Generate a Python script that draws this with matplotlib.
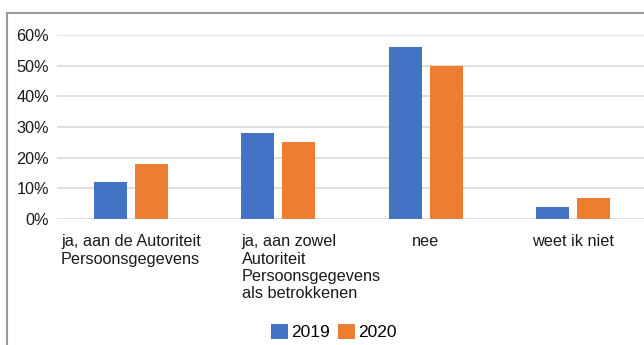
import matplotlib
matplotlib.use('Agg')
import matplotlib.pyplot as plt
from matplotlib.lines import Line2D
from matplotlib.ticker import PercentFormatter
from matplotlib.transforms import ScaledTranslation
import numpy as np

matplotlib.rcParams['font.family'] = ['Liberation Sans', 'DejaVu Sans']

categories = ['ja, aan de Autoriteit\nPersoonsgegevens',
              'ja, aan zowel\nAutoriteit\nPersoonsgegevens\nals betrokkenen',
              'nee',
              'weet ik niet']
values_2019 = [0.12, 0.28, 0.56, 0.04]
values_2020 = [0.18, 0.25, 0.50, 0.07]

blue = '#4472C4'
orange = '#ED7D31'

fig = plt.figure(figsize=(6.44, 3.45), dpi=100)
ax = fig.add_axes([57.3 / 644, 1 - 219 / 345, 589.5 / 644, 184 / 345])

x = np.arange(len(categories))
w = 0.224
ax.bar(x - 0.139, values_2019, w, color=blue, label='2019', zorder=3)
ax.bar(x + 0.139, values_2020, w, color=orange, label='2020', zorder=3)

ax.set_xlim(-0.5, 3.5)
ax.set_ylim(0, 0.6)
ax.set_yticks(np.arange(0, 0.61, 0.1))
ax.yaxis.set_major_formatter(PercentFormatter(1.0, decimals=0))
ax.grid(axis='y', color='#d9d9d9', linewidth=1.2, zorder=0)
for s in ax.spines.values():
    s.set_visible(False)
ax.tick_params(axis='both', length=0, labelsize=11.7, colors='#1a1a1a')
ax.tick_params(axis='y', pad=6)
ax.tick_params(axis='x', pad=11)
ax.set_xticks(x)
ax.set_xticklabels(categories, multialignment='left', linespacing=1.2)

# the wrapped second label sits a bit to the right of its tick
lab = ax.get_xticklabels()[1]
lab.set_transform(lab.get_transform() + ScaledTranslation(0.33, 0, fig.dpi_scale_trans))

fig.legend(loc='center', bbox_to_anchor=(0.518, 1 - 332 / 345), ncol=2,
           frameon=False, fontsize=12.5, handlelength=1.0, handleheight=1.0,
           handletextpad=0.15, columnspacing=0.5, borderaxespad=0)

# chart frame, top and left edges
fig.add_artist(Line2D([6.5 / 644, 1], [1 - 12.5 / 345] * 2, transform=fig.transFigure,
                      color='#9a9a9a', linewidth=1.5))
fig.add_artist(Line2D([6.5 / 644] * 2, [0, 1 - 12.5 / 345], transform=fig.transFigure,
                      color='#9a9a9a', linewidth=1.5))

fig.savefig('out.png', dpi=100)
